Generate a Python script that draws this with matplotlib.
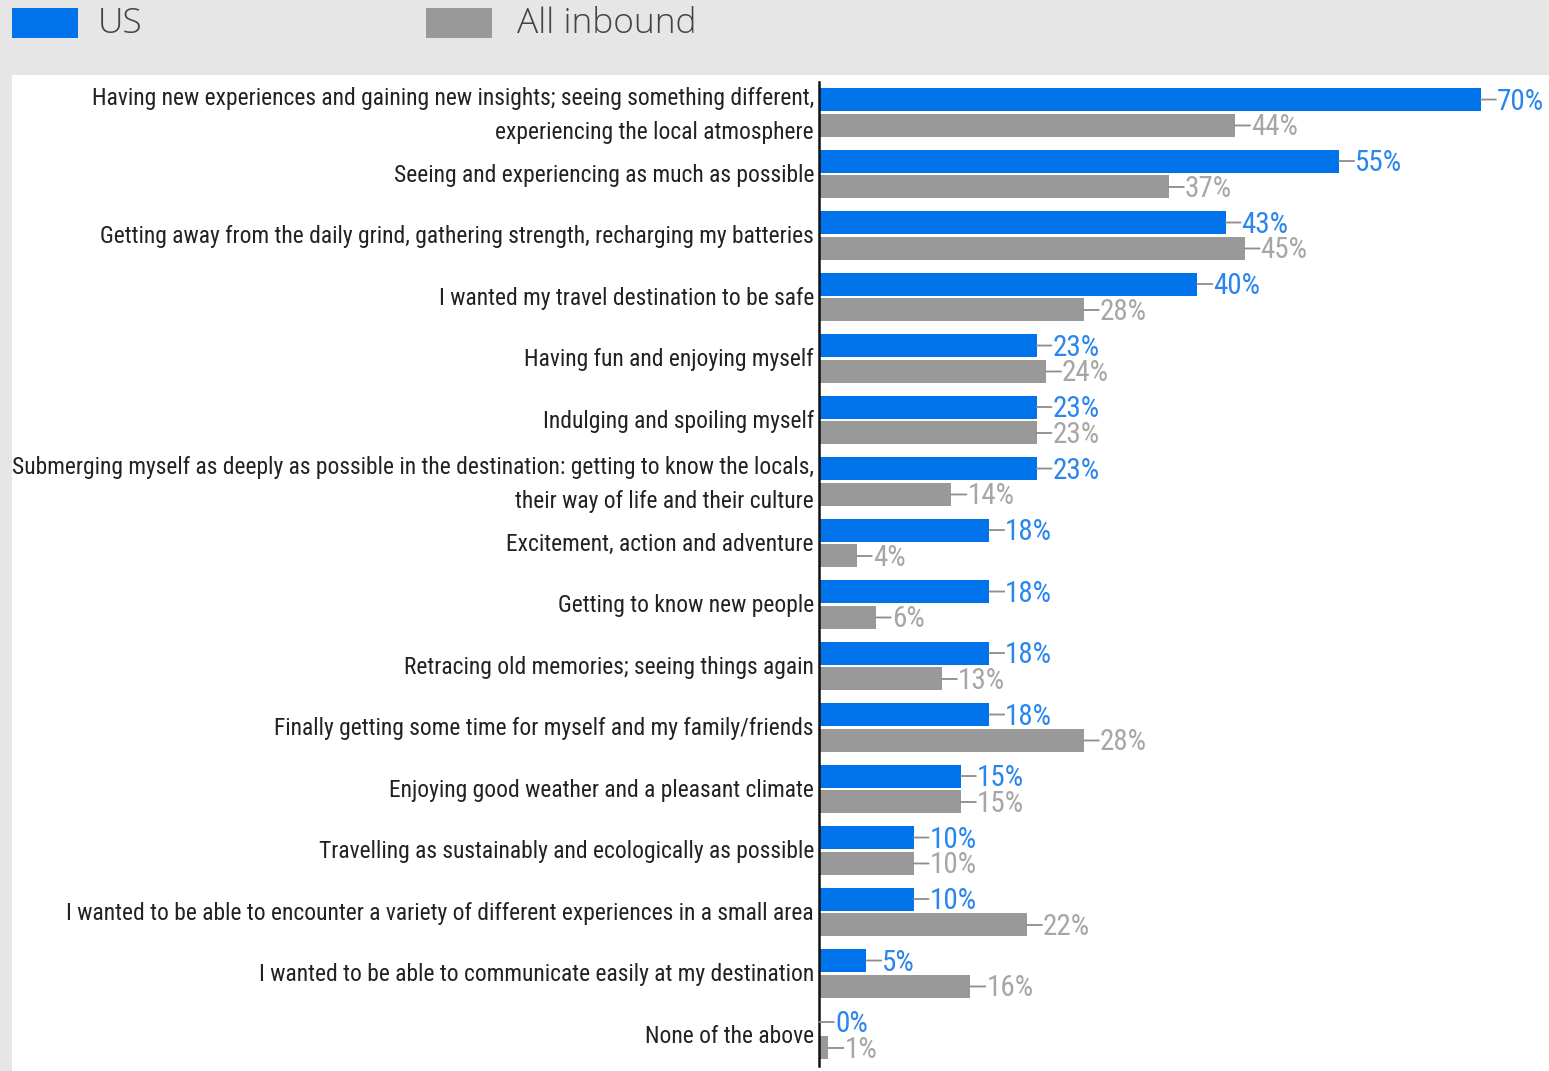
import matplotlib
matplotlib.use("Agg")
import matplotlib.pyplot as plt
from matplotlib import font_manager
from matplotlib.patches import Rectangle

categories = [
    "Having new experiences and gaining new insights; seeing something different,\nexperiencing the local atmosphere",
    "Seeing and experiencing as much as possible",
    "Getting away from the daily grind, gathering strength, recharging my batteries",
    "I wanted my travel destination to be safe",
    "Having fun and enjoying myself",
    "Indulging and spoiling myself",
    "Submerging myself as deeply as possible in the destination: getting to know the locals,\ntheir way of life and their culture",
    "Excitement, action and adventure",
    "Getting to know new people",
    "Retracing old memories; seeing things again",
    "Finally getting some time for myself and my family/friends",
    "Enjoying good weather and a pleasant climate",
    "Travelling as sustainably and ecologically as possible",
    "I wanted to be able to encounter a variety of different experiences in a small area",
    "I wanted to be able to communicate easily at my destination",
    "None of the above",
]
us_values = [70, 55, 43, 40, 23, 23, 23, 18, 18, 18, 18, 15, 10, 10, 5, 0]
all_inbound_values = [44, 37, 45, 28, 24, 23, 14, 4, 6, 13, 28, 15, 10, 22, 16, 1]
series_names = ["US", "All inbound"]

BLUE = "#0073ea"
BLUE_TEXT = "#2a86ec"
GREY = "#999999"
GREY_TEXT = "#a6a6a6"
LEADER = "#8c8c8c"


def pick_font(candidates):
    names = {f.name for f in font_manager.fontManager.ttflist}
    for c in candidates:
        if c in names:
            return c
    return "DejaVu Sans"


narrow = pick_font(["Roboto Condensed", "Liberation Sans Narrow", "DejaVu Sans"])
legend_font = pick_font(["Open Sans", "Lato", "DejaVu Sans"])
narrow_kw = dict(family=narrow)
if narrow == "DejaVu Sans":
    narrow_kw["stretch"] = "condensed"

W, H = 1549, 1071
fig = plt.figure(figsize=(W / 100, H / 100), dpi=100, facecolor="#e6e6e6")

# white plotting panel, kept behind the axes
fig.patches.append(Rectangle((12 / W, 0), 1 - 12 / W, 1 - 75 / H,
                             transform=fig.transFigure, facecolor="white",
                             edgecolor="none", zorder=-5))

# legend across the top band
legend_items = [(12, BLUE, 98), (426, GREY, 517)]
for (x0, col, tx), name in zip(legend_items, series_names):
    fig.patches.append(Rectangle((x0 / W, 1 - 38 / H), 66 / W, 30 / H,
                                 transform=fig.transFigure, facecolor=col,
                                 edgecolor="none", zorder=-4))
    fig.text(tx / W, 1 - 24 / H, name, ha="left", va="center", fontsize=25.5,
             color="#444444", family=legend_font, fontweight="light")

ax = fig.add_axes([819 / W, 1 - 1066 / H, 1 - 819 / W, (1066 - 82) / H])
ax.set_zorder(2)
ax.set_facecolor("none")

n = len(categories)
ys = list(range(n))
bar_h = 0.374
off = 0.211

ax.barh([y - off for y in ys], us_values, height=bar_h, color=BLUE, zorder=2)
ax.barh([y + off for y in ys], all_inbound_values, height=bar_h, color=GREY, zorder=2)


def value_label(v, y, color):
    ax.annotate("", xy=(v, y), xytext=(15, 0), textcoords="offset pixels",
                arrowprops=dict(arrowstyle="-", color=LEADER, lw=1.3,
                                shrinkA=0, shrinkB=0), annotation_clip=False)
    ax.annotate(f"{v}%", xy=(v, y), xytext=(16, -2), textcoords="offset pixels",
                ha="left", va="center", fontsize=21, color=color,
                annotation_clip=False, **narrow_kw)


for y, v in zip(ys, us_values):
    value_label(v, y - off, BLUE_TEXT)
for y, v in zip(ys, all_inbound_values):
    value_label(v, y + off, GREY_TEXT)

# category labels to the left of the axis line
for y, cat in zip(ys, categories):
    dy = -3 if "\n" in cat else -1
    ax.annotate(cat, xy=(0, y), xytext=(-5, dy), textcoords="offset pixels",
                ha="right", va="center", fontsize=16.9, color="#222222",
                linespacing=1.62, annotation_clip=False, **narrow_kw)

ax.set_xlim(0, 730 / 9.457)
ax.set_ylim(15.504, -0.496)
ax.set_yticks([])
ax.set_xticks([])
for s in ["top", "right", "bottom"]:
    ax.spines[s].set_visible(False)
ax.spines["left"].set_linewidth(1.8)
ax.spines["left"].set_color("#111111")

fig.savefig("out.png", dpi=100, facecolor=fig.get_facecolor())
